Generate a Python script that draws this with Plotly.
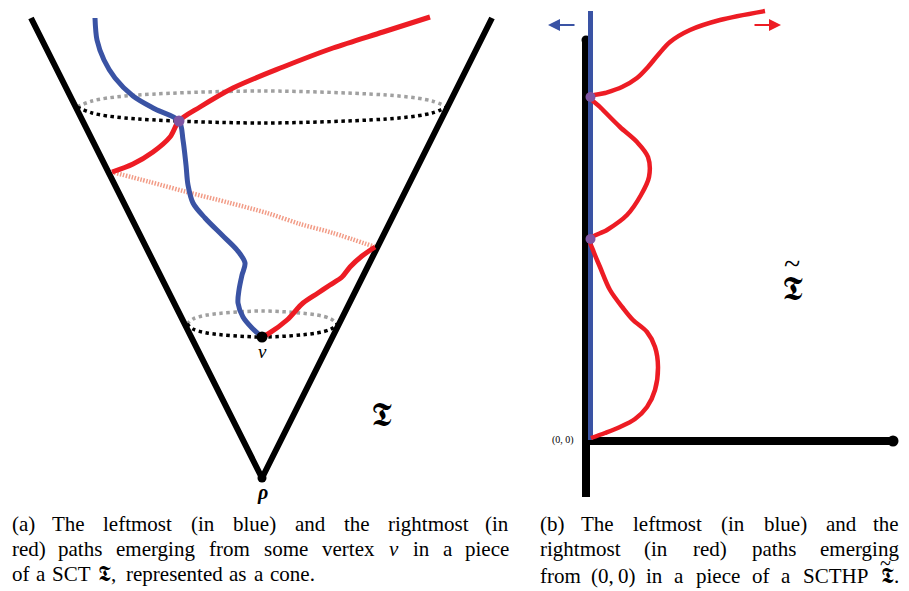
import plotly.graph_objects as go

W, H = 909, 591
OFF = 8  # page body margin of the browser

# ---------------- Panel (a): cone with paths ----------------
cone_x = [31, 262, 492]
cone_y = [18, 478, 18]

blue_a_x = [95, 97, 104, 115, 133, 155, 179, 183, 186, 188, 193, 205, 222, 237, 245, 242, 239, 238, 243, 252, 262]
blue_a_y = [18, 40, 60, 78, 96, 109, 121, 140, 165, 185, 203, 218, 235, 250, 263, 275, 290, 303, 317, 328, 337]

red_a1_x = [262, 268, 287, 303, 318, 330, 342, 350, 362, 375]
red_a1_y = [337, 334, 320, 303, 293, 285, 277, 267, 256, 247]

salmon_x = [375, 333, 300, 267, 230, 187, 150, 112]
salmon_y = [247, 233, 224, 213, 203, 192, 182, 172]

red_a2_x = [112, 133, 153, 170, 179, 200, 233, 283, 333, 383, 430]
red_a2_y = [172, 164, 152, 137, 121, 107, 88, 67, 48, 32, 17]

ell_up_front_x = [77, 92, 125, 262, 399, 432, 447]
ell_up_front_y = [107, 113, 118, 123, 118, 113, 107]
ell_up_back_x = [77, 92, 125, 262, 399, 432, 447]
ell_up_back_y = [107, 101, 96, 91, 96, 101, 107]

ell_lo_front_x = [187, 193, 207, 262, 317, 331, 337]
ell_lo_front_y = [324, 329, 333, 337, 333, 329, 324]
ell_lo_back_x = [187, 193, 207, 262, 317, 331, 337]
ell_lo_back_y = [324, 319, 315, 311, 315, 319, 324]

purple_a = ([179], [121])
vertex_v = ([262], [337])
root_rho = ([262], [478])

# ---------------- Panel (b): half plane ----------------
axis_v_x = [586, 586]
axis_v_y = [38, 497]
axis_h_x = [586, 892]
axis_h_y = [441, 441]

blue_b_x = [590.5, 590.5]
blue_b_y = [11, 440]

red_b_x = [591, 605, 620, 635, 647, 655, 658, 655, 647, 633, 623, 610, 600, 593, 590,
           607, 627, 641, 649, 648, 637, 620, 600, 590,
           605, 622, 637, 648, 658, 670, 690, 720, 765]
red_b_y = [438, 433, 427, 419, 407, 390, 367, 347, 332, 320, 308, 290, 267, 250, 239,
           230, 215, 195, 177, 157, 142, 127, 107, 97,
           93, 87, 78, 67, 55, 42, 30, 20, 11]

purple_b_x = [590.5, 590.5]
purple_b_y = [97, 239]

# ---------------- Captions ----------------
caption_a = ["(a) The leftmost (in blue) and the rightmost (in",
             "red) paths emerging from some vertex v in a piece",
             "of a SCT 𝕿, represented as a cone."]
caption_b = ["(b) The leftmost (in blue) and the",
             "rightmost (in red) paths emerging",
             "from (0,\u20090) in a piece of a SCTHP 𝕿."]

RED = "#ED1C24"
BLUE = "#3A53A4"
PURPLE = "#7E55A3"
SALMON = "#F29C87"
GRAY = "#A0A0A0"
SERIF = "Liberation Serif"

fig = go.Figure()


def line(x, y, color, width, dash=None, spline=True):
    fig.add_trace(go.Scatter(
        x=x, y=y, mode="lines", hoverinfo="skip",
        line=dict(color=color, width=width, dash=dash,
                  shape="spline" if spline else "linear", smoothing=0.9)))


def dots(x, y, color, size):
    fig.add_trace(go.Scatter(x=x, y=y, mode="markers", hoverinfo="skip",
                             marker=dict(color=color, size=size, line=dict(width=0))))


# panel (a)
line(ell_up_back_x, ell_up_back_y, GRAY, 3.5, "dot")
line(ell_lo_back_x, ell_lo_back_y, GRAY, 3.5, "dot")
line(salmon_x, salmon_y, SALMON, 4.5, "1.5px,1.5px")
line(cone_x, cone_y, "black", 6, spline=False)
line(ell_up_front_x, ell_up_front_y, "black", 3.5, "dot")
line(ell_lo_front_x, ell_lo_front_y, "black", 3.5, "dot")
line(blue_a_x, blue_a_y, BLUE, 5)
line(red_a1_x, red_a1_y, RED, 5)
line(red_a2_x, red_a2_y, RED, 5)
dots(*purple_a, PURPLE, 11)
dots(*vertex_v, "black", 11)
dots(*root_rho, "black", 9)

# panel (b)
line(axis_v_x, axis_v_y, "black", 8, spline=False)
line(axis_h_x, axis_h_y, "black", 8, spline=False)
fig.add_trace(go.Scatter(x=[893], y=[441], mode="markers", hoverinfo="skip",
                         marker=dict(symbol="circle", color="black", size=11)))
fig.add_trace(go.Scatter(x=[586], y=[40], mode="markers", hoverinfo="skip",
                         marker=dict(symbol="circle", color="black", size=9)))
line(blue_b_x, blue_b_y, BLUE, 5, spline=False)
line(red_b_x, red_b_y, RED, 4.5)
dots(purple_b_x, purple_b_y, PURPLE, 10)

ann = []
# small direction arrows
ann.append(dict(x=548, y=25, ax=576, ay=25, xref="x", yref="y", axref="x", ayref="y",
                text="", showarrow=True, arrowhead=2, arrowsize=1.2, arrowwidth=2, arrowcolor=BLUE))
ann.append(dict(x=781, y=25, ax=753, ay=25, xref="x", yref="y", axref="x", ayref="y",
                text="", showarrow=True, arrowhead=2, arrowsize=1.2, arrowwidth=2, arrowcolor=RED))


def label(x, y, text, size, **kw):
    d = dict(x=x, y=y, xref="x", yref="y", text=text, showarrow=False,
             font=dict(family=SERIF, size=size, color="black"),
             xanchor="center", yanchor="middle")
    d.update(kw)
    ann.append(d)


label(262, 351, "<i>v</i>", 19)
label(262, 492, "<b><i>ρ</i></b>", 20)
label(381, 414, "𝕿", 34)
label(563, 440, "(0, 0)", 10)
label(792, 288, "𝕿", 34)
label(792, 263, "~", 30)

# justified caption words (Times metrics, 1/1000 em)
TIMES = {' ': 250, '\u2009': 167, '(': 333, ')': 333, ',': 250, '.': 250, '0': 500,
         'a': 444, 'b': 500, 'c': 444, 'd': 500, 'e': 444, 'f': 333, 'g': 500,
         'h': 500, 'i': 278, 'k': 500, 'l': 278, 'm': 778, 'n': 500, 'o': 500,
         'p': 500, 'r': 333, 's': 389, 't': 278, 'u': 500, 'v': 500, 'w': 722,
         'x': 500, 'y': 500, 'T': 611, 'S': 556, 'C': 667, 'H': 722, 'P': 556,
         '𝕿': 760}
CAP_SIZE = 21


def wwidth(s):
    return sum(TIMES.get(c, 500) for c in s) * CAP_SIZE / 1000.0


def caption(lines, x0, x1, ys, justify):
    for text, y, just in zip(lines, ys, justify):
        words = text.split(" ")
        widths = [wwidth(w) for w in words]
        n = len(words)
        if just:
            gap = (x1 - x0 - sum(widths)) / (n - 1)
        else:
            gap = wwidth(" ") * 1.3
        x = x0
        for i, (w, wd) in enumerate(zip(words, widths)):
            t = "<i>v</i>" if w == "v" else w
            if i == 0:
                px, anchor = x, "left"
            elif just and i == n - 1:
                px, anchor = x1, "right"
            elif just:
                px, anchor = x + wd / 2, "center"
            else:
                px, anchor = x, "left"
            ann.append(dict(x=px, y=y, xref="x", yref="y", text=t, showarrow=False,
                            xanchor=anchor, yanchor="middle",
                            font=dict(family=SERIF, size=CAP_SIZE, color="black")))
            x += wd + gap


B_RIGHT = 901
caption(caption_a, 10, 511, [524, 549, 574], [True, True, False])
caption(caption_b, 538, B_RIGHT, [524, 549, 576], [True, True, True])
# tilde over the fraktur letter in caption (b)
label(B_RIGHT - wwidth(".") - wwidth("𝕿") / 2 - 2, 563, "~", 20)

fig.update_layout(
    width=W - OFF, height=H - OFF, autosize=False,
    margin=dict(l=0, r=0, t=0, b=0),
    paper_bgcolor="white", plot_bgcolor="white",
    showlegend=False,
    xaxis=dict(range=[OFF, W], visible=False, fixedrange=True),
    yaxis=dict(range=[H, OFF], visible=False, fixedrange=True),
    annotations=ann,
)

fig.write_html("out.html")
